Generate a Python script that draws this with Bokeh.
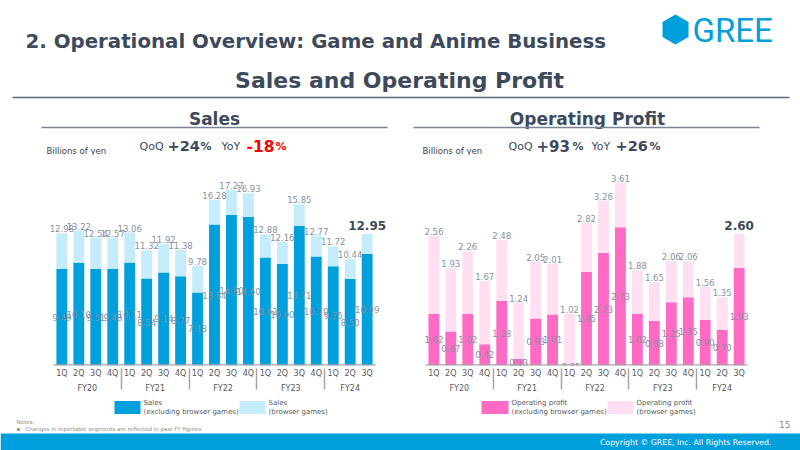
import numpy as np
from bokeh.plotting import figure
from bokeh.layouts import column, row
from bokeh.models import ColumnDataSource, FactorRange, Range1d, LabelSet
from bokeh.embed import file_html
from bokeh.resources import INLINE
from bokeh.core.properties import value

# ---------------- data ----------------
fiscal_years = ["FY20", "FY21", "FY22", "FY23", "FY24"]
quarters = [["1Q", "2Q", "3Q", "4Q"], ["1Q", "2Q", "3Q", "4Q"], ["1Q", "2Q", "3Q", "4Q"],
            ["1Q", "2Q", "3Q", "4Q"], ["1Q", "2Q", "3Q"]]

sales_total = [12.98, 13.22, 12.54, 12.57, 13.06, 11.32, 11.92, 11.38,
               9.78, 16.28, 17.27, 16.93, 12.88, 12.16, 15.85, 12.77,
               11.72, 10.44, 12.95]
sales_excl = [9.49, 10.10, 9.51, 9.48, 10.11, 8.54, 9.14, 8.77,
              7.18, 13.84, 14.80, 14.60, 10.62, 10.00, 13.71, 10.70,
              9.75, 8.50, 10.99]

op_total = [2.56, 1.93, 2.26, 1.67, 2.48, 1.24, 2.05, 2.01,
            1.02, 2.82, 3.26, 3.61, 1.88, 1.65, 2.06, 2.06,
            1.56, 1.35, 2.60]
op_excl = [1.02, 0.67, 1.02, 0.42, 1.28, 0.13, 0.93, 1.01,
           -0.05, 1.85, 2.23, 2.73, 1.02, 0.88, 1.25, 1.35,
           0.90, 0.70, 1.93]

sales_legend = ["Sales\n(excluding browser games)", "Sales\n(browser games)"]
op_legend = ["Operating profit\n(excluding browser games)", "Operating profit\n(browser games)"]

# ---------------- style ----------------
SLATE = "#3d4a5c"
LABEL_GREY = "#8691a2"
AXIS_GREY = "#a6a6a6"
BLUE = "#00a0dc"
LIGHT_BLUE = "#c5ecfb"
PINK = "#ff6ac4"
LIGHT_PINK = "#ffdff1"
FONT = "DejaVu Sans"

factors = [(fy, q) for fy, qs in zip(fiscal_years, quarters) for q in qs]


def chart(total, excl, dark, light, yend, bl, br):
    p = figure(width=400, height=240,
               x_range=FactorRange(*factors, group_padding=0, factor_padding=0,
                                   range_padding=0.7, range_padding_units="absolute"),
               y_range=Range1d(0, yend),
               output_backend="svg", toolbar_location=None, y_axis_location=None,
               min_border_left=bl, min_border_right=br, min_border_top=0, min_border_bottom=0)
    p.outline_line_color = None
    p.xgrid.visible = False
    p.ygrid.visible = False

    src = ColumnDataSource(dict(
        x=factors,
        total=total,
        excl=excl,
        base=list(np.maximum(np.array(excl), 0)),
        mid=[e / 2 for e in excl],
        ex_lab=[f"{v:.2f}" for v in excl],
    ))
    p.vbar(x="x", bottom=0, top="excl", width=0.64, fill_color=dark,
           line_color=None, source=src)
    p.vbar(x="x", bottom="base", top="total", width=0.64, fill_color=light,
           line_color=None, source=src)

    # baseline spanning exactly the category slots
    p.segment(x0=[factors[0] + (-0.5,)], y0=[0], x1=[factors[-1] + (0.5,)], y1=[0],
              line_color=AXIS_GREY, line_width=2.5)

    head = ColumnDataSource(dict(x=factors[:-1], total=total[:-1],
                                 lab=[f"{v:.2f}" for v in total[:-1]]))
    last = ColumnDataSource(dict(x=factors[-1:], total=total[-1:],
                                 lab=[f"{v:.2f}" for v in total[-1:]]))
    p.add_layout(LabelSet(x="x", y="total", text="lab", source=head,
                          text_align="center", text_baseline="bottom", y_offset=1,
                          text_font=value(FONT), text_font_size=value("8.5px"),
                          text_color=LABEL_GREY))
    p.add_layout(LabelSet(x="x", y="total", text="lab", source=last,
                          text_align="center", text_baseline="bottom", y_offset=4,
                          text_font=value(FONT), text_font_size=value("12px"),
                          text_font_style="bold", text_color=SLATE))
    p.add_layout(LabelSet(x="x", y="mid", text="ex_lab", source=src,
                          text_align="center", text_baseline="middle",
                          text_font=value(FONT), text_font_size=value("8.5px"),
                          text_color=LABEL_GREY))

    ax = p.xaxis[0]
    ax.axis_line_color = None
    ax.major_tick_line_color = None
    ax.major_tick_out = 0
    ax.major_tick_in = 0
    ax.major_label_standoff = 3
    ax.major_label_text_font = FONT
    ax.major_label_text_font_size = "8px"
    ax.major_label_text_color = "#595959"
    ax.group_text_font = FONT
    ax.group_text_font_size = "8px"
    ax.group_text_font_style = "normal"
    ax.group_text_color = "#595959"
    ax.separator_line_color = AXIS_GREY
    ax.separator_line_width = 1.5
    return p


left = chart(sales_total, sales_excl, BLUE, LIGHT_BLUE, 20.63, 41, 13)
right = chart(op_total, op_excl, PINK, LIGHT_PINK, 4.15, 13, 41)

# ---------------- header ----------------
hdr = figure(width=800, height=155, x_range=Range1d(0, 800), y_range=Range1d(155, 0),
             output_backend="svg", toolbar_location=None,
             x_axis_location=None, y_axis_location=None, min_border=0)
hdr.outline_line_color = None
hdr.grid.visible = False

hdr.text(x=[25], y=[41], text=["2. Operational Overview: Game and Anime Business"],
         text_baseline="middle", text_font=value(FONT), text_font_style="bold",
         text_font_size="19.8px", text_color=SLATE)
hdr.text(x=[399], y=[80], text=["Sales and Operating Profit"], text_align="center",
         text_baseline="middle", text_font=value(FONT), text_font_style="bold",
         text_font_size="22px", text_color=SLATE)
hdr.segment(x0=[12], y0=[97], x1=[789], y1=[97], line_color="#5f6b7a", line_width=1.3)

# logo
ang = np.deg2rad(np.arange(6) * 60 + 90)
hdr.patch(x=list(675 + 15 * np.cos(ang)), y=list(29 + 15 * np.sin(ang)),
          fill_color=BLUE, line_color=None)
hdr.text(x=[692], y=[30], text=["GREE"], text_baseline="middle",
         text_font=value("Roboto"), text_font_size="33px", text_color=BLUE)

# sub titles
hdr.text(x=[214, 587], y=[118, 118], text=["Sales", "Operating Profit"], text_align="center",
         text_baseline="middle", text_font=value(FONT), text_font_style="bold",
         text_font_size="17px", text_color=SLATE)
hdr.segment(x0=[41, 413], y0=[127, 127], x1=[387, 759], y1=[127, 127],
            line_color="#7a8594", line_width=1.3)

hdr.text(x=[46, 422], y=[150, 150], text=["Billions of yen", "Billions of yen"],
         text_baseline="middle", text_font=value(FONT), text_font_size="8.5px",
         text_color="#404040")


def growth(x_parts, parts, sizes, bolds, colors):
    for x, t, s, b, c in zip(x_parts, parts, sizes, bolds, colors):
        hdr.text(x=[x], y=[145.5], text=[t], text_baseline="alphabetic",
                 text_font=value(FONT), text_font_size=s,
                 text_font_style="bold" if b else "normal", text_color=c)


growth([139, 167, 200, 221, 246, 275],
       ["QoQ", "+24", "%", "YoY", "-18", "%"],
       ["11px", "14.5px", "11px", "11px", "15.5px", "11px"],
       [False, True, True, False, True, True],
       [SLATE, SLATE, SLATE, SLATE, "#ff0000", "#ff0000"])
growth([508, 536, 572, 591, 615, 649],
       ["QoQ", "+93", "%", "YoY", "+26", "%"],
       ["11px", "15px", "11px", "11px", "14.5px", "11px"],
       [False, True, True, False, True, True],
       [SLATE] * 6)

# ---------------- footer (legend, notes, copyright) ----------------
FH = 55
ftr = figure(width=800, height=FH, x_range=Range1d(0, 800), y_range=Range1d(FH, 0),
             output_backend="svg", toolbar_location=None,
             x_axis_location=None, y_axis_location=None, min_border=0)
ftr.outline_line_color = None
ftr.grid.visible = False
o = 5  # footer starts at page y = 395

ftr.quad(left=[114, 239, 481, 607], right=[140, 265, 508, 633],
         top=[o + 0.5] * 4, bottom=[o + 13.5] * 4,
         fill_color=[BLUE, LIGHT_BLUE, PINK, LIGHT_PINK], line_color=None)
ftr.text(x=[143, 268, 511, 636], y=[o + 7] * 4,
         text=[sales_legend[0], sales_legend[1], op_legend[0], op_legend[1]],
         text_baseline="middle", text_font=value(FONT), text_font_size="7px",
         text_line_height=1.15, text_color="#595959")

ftr.text(x=[16], y=[o + 21.7], text=["Notes:"], text_baseline="middle",
         text_font=value(FONT), text_font_size="5.5px", text_color="#8c8c8c")
ftr.text(x=[16], y=[o + 28], text=["\u25aa"], text_baseline="middle",
         text_font=value(FONT), text_font_size="5.5px", text_color="#8c8c8c")
ftr.text(x=[25], y=[o + 28], text=["Changes in reportable segments are reflected in past FY figures"],
         text_baseline="middle", text_font=value(FONT), text_font_size="5.5px",
         text_color="#8c8c8c")
ftr.text(x=[790], y=[o + 24], text=["15"], text_align="right", text_baseline="middle",
         text_font=value(FONT), text_font_size="9px", text_color="#8c8c8c")
ftr.quad(left=[0], right=[800], top=[o + 33], bottom=[FH], fill_color=BLUE, line_color=None)
ftr.text(x=[771], y=[o + 42], text=["Copyright \u00a9 GREE, Inc. All Rights Reserved."],
         text_align="right", text_baseline="middle", text_font=value(FONT),
         text_font_size="7.8px", text_color="white")

layout = column(hdr, row(left, right, spacing=0), ftr, spacing=0)
open("out.html", "w").write(file_html(layout, INLINE))
